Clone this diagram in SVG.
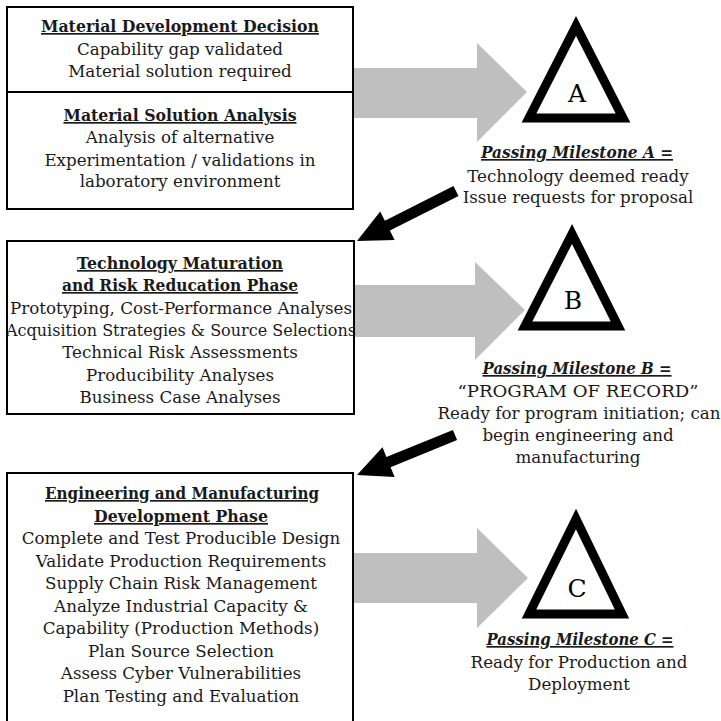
<svg xmlns="http://www.w3.org/2000/svg" width="721" height="721" viewBox="0 0 721 721">
<style>
text{font-family:"DejaVu Serif","Liberation Serif",serif;font-size:16.7px;fill:#1a1a1a;text-anchor:middle}
.h{font-weight:bold;text-decoration:underline}
.m{font-weight:bold;font-style:italic;text-decoration:underline}
.box{fill:none;stroke:#000;stroke-width:2}
.tri{fill:#fff;stroke:#000;stroke-width:9;stroke-linejoin:miter}
.big{fill:#bfbfbf}
.blk{fill:#000}
.lt{font-size:25px;fill:#000}
</style>
<rect width="721" height="721" fill="#fff"/>
<g id="connectors">
<polygon class="big" points="353,68 477,68 477,43 527,92 477,142 477,118 353,118"/>
<polygon class="big" points="353,285 475,285 475,262 525,310 475,360 475,337 353,337"/>
<polygon class="big" points="353,553 477,553 477,528 528,578 477,628 477,603 353,603"/>
<polygon class="blk" points="453.5,186.1 384.9,220.8 380.2,211.4 357,241 394.6,240 389.9,230.6 458.5,195.9"/>
<polygon class="blk" points="452.9,429.9 386.4,457 382.5,447.3 357,475 394.6,476.9 390.6,467.2 457.1,440.1"/>
</g>
<g id="mdd">
<rect class="box" x="7" y="7" width="346" height="85"/>
<text class="h" x="180" y="32" textLength="278" lengthAdjust="spacingAndGlyphs">Material Development Decision</text>
<text x="180" y="55">Capability gap validated</text>
<text x="180" y="77">Material solution required</text>
</g>
<g id="msa">
<rect class="box" x="7" y="92" width="346" height="117"/>
<text class="h" x="180" y="121" textLength="233" lengthAdjust="spacingAndGlyphs">Material Solution Analysis</text>
<text x="180" y="143">Analysis of alternative</text>
<text x="180" y="166">Experimentation / validations in</text>
<text x="180" y="187">laboratory environment</text>
</g>
<g id="tmrr">
<text class="h" x="180" y="269" textLength="206" lengthAdjust="spacingAndGlyphs">Technology Maturation</text>
<text class="h" x="180" y="291" textLength="236" lengthAdjust="spacingAndGlyphs">and Risk Reducation Phase</text>
<text x="181" y="314">Prototyping, Cost-Performance Analyses</text>
<text x="181" y="336" textLength="350" lengthAdjust="spacingAndGlyphs">Acquisition Strategies &amp; Source Selections</text>
<text x="180" y="358">Technical Risk Assessments</text>
<text x="180" y="381">Producibility Analyses</text>
<text x="180" y="403">Business Case Analyses</text>
<rect class="box" x="7" y="241" width="347" height="173"/>
</g>
<g id="emd">
<text class="h" x="182" y="499" textLength="274" lengthAdjust="spacingAndGlyphs">Engineering and Manufacturing</text>
<text class="h" x="181" y="522" textLength="174" lengthAdjust="spacingAndGlyphs">Development Phase</text>
<text x="181" y="544">Complete and Test Producible Design</text>
<text x="181" y="567">Validate Production Requirements</text>
<text x="181" y="589">Supply Chain Risk Management</text>
<text x="181" y="612">Analyze Industrial Capacity &amp;</text>
<text x="181" y="634">Capability (Production Methods)</text>
<text x="181" y="657">Plan Source Selection</text>
<text x="181" y="679">Assess Cyber Vulnerabilities</text>
<text x="181" y="702">Plan Testing and Evaluation</text>
<rect class="box" x="7" y="473" width="346" height="260"/>
</g>
<g id="milestoneA">
<path class="tri" d="M576,26 L529,118 L623,118 Z"/>
<text class="lt" x="577" y="102">A</text>
<text class="m" x="577" y="158" textLength="192" lengthAdjust="spacingAndGlyphs">Passing Milestone A =</text>
<text x="578" y="182">Technology deemed ready</text>
<text x="578" y="203">Issue requests for proposal</text>
</g>
<g id="milestoneB">
<path class="tri" d="M572,234 L525,326 L618,326 Z"/>
<text class="lt" x="573" y="309">B</text>
<text class="m" x="577" y="374" textLength="189" lengthAdjust="spacingAndGlyphs">Passing Milestone B =</text>
<text x="578" y="397" textLength="241" lengthAdjust="spacingAndGlyphs">“PROGRAM OF RECORD”</text>
<text x="579" y="419">Ready for program initiation; can</text>
<text x="578" y="441">begin engineering and</text>
<text x="578" y="463">manufacturing</text>
</g>
<g id="milestoneC">
<path class="tri" d="M576,519 L529,614 L622,614 Z"/>
<text class="lt" x="577" y="597">C</text>
<text class="m" x="580" y="645" textLength="187" lengthAdjust="spacingAndGlyphs">Passing Milestone C =</text>
<text x="579" y="668">Ready for Production and</text>
<text x="579" y="690">Deployment</text>
</g>
</svg>
